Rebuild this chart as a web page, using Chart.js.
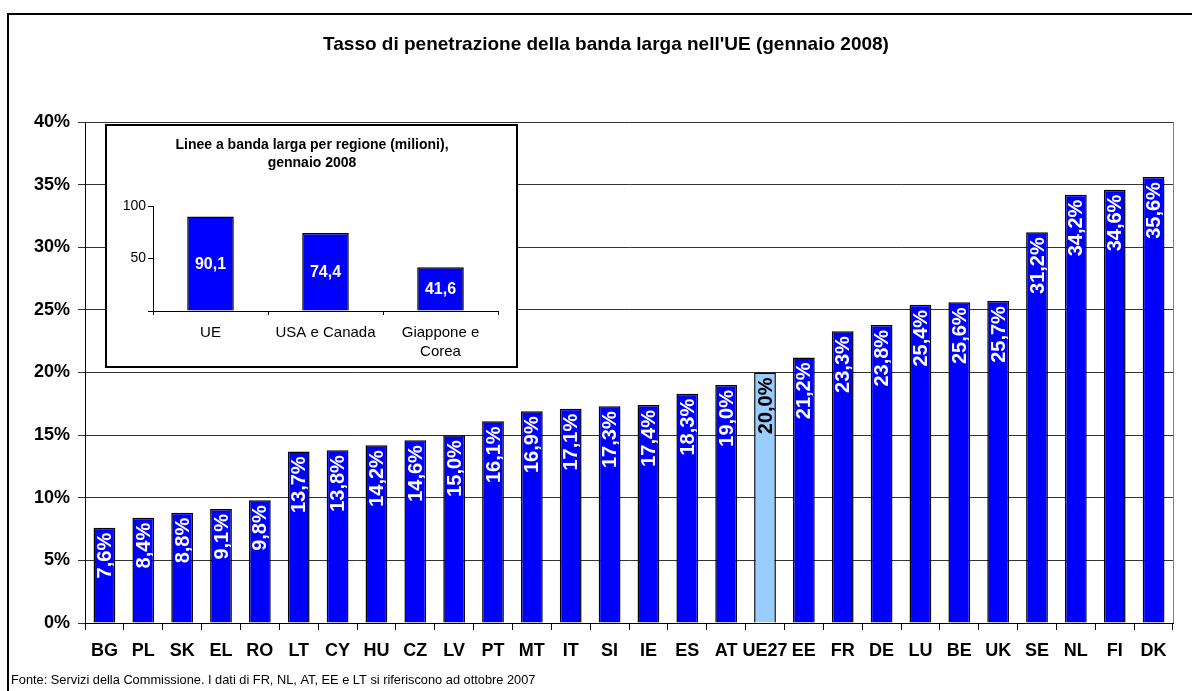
<!DOCTYPE html>
<html>
<head>
<meta charset="utf-8">
<script src="https://cdn.jsdelivr.net/npm/chart.js@4/dist/chart.umd.min.js"></script>
<style>
  html, body { margin: 0; padding: 0; background: #fff; }
  #page { position: relative; width: 1192px; height: 691px; overflow: hidden; }
  #frame { position: absolute; left: 7px; top: 13px; width: 1200px; height: 700px;
           border-left: 2px solid #000; border-top: 2px solid #000; }
  #main { position: absolute; left: 0; top: 0; }
  #inset { position: absolute; left: 105px; top: 124px; width: 413px; height: 244px;
           box-sizing: border-box; border: 2px solid #000; background: #fff; }
  #insetCanvas { position: absolute; left: 0; top: 0; }
</style>
</head>
<body>
<div id="page">
  <div id="frame"></div>
  <canvas id="main" width="1192" height="691"></canvas>
  <div id="inset"><canvas id="insetCanvas" width="409" height="240"></canvas></div>
</div>
<script>
  // main chart: broadband penetration by country, Jan 2008
  var categories = ["BG", "PL", "SK", "EL", "RO", "LT", "CY", "HU", "CZ", "LV", "PT", "MT", "IT", "SI",
                    "IE", "ES", "AT", "UE27", "EE", "FR", "DE", "LU", "BE", "UK", "SE", "NL", "FI", "DK"];
  var penetration = [7.6, 8.4, 8.8, 9.1, 9.8, 13.7, 13.8, 14.2, 14.6, 15.0, 16.1, 16.9, 17.1, 17.3,
                     17.4, 18.3, 19.0, 20.0, 21.2, 23.3, 23.8, 25.4, 25.6, 25.7, 31.2, 34.2, 34.6, 35.6];
  var highlight = "UE27";
  var titleText = "Tasso di penetrazione della banda larga nell'UE (gennaio 2008)";
  var sourceText = "Fonte: Servizi della Commissione. I dati di FR, NL, AT, EE e LT si riferiscono ad ottobre 2007";

  // inset: broadband lines per region (millions)
  var regions = ["UE", "USA e Canada", ["Giappone e", "Corea"]];
  var lines = [90.1, 74.4, 41.6];
  var insetTitle = ["Linee a banda larga per regione (milioni),", "gennaio 2008"];

  var FONT = "Arial, 'Liberation Sans', sans-serif";
  var BLUE = "#0000FF", LIGHT = "#99CCFF";

  function pct(v) { return v.toFixed(1).replace(".", ",") + "%"; }
  function num(v) { return v.toFixed(1).replace(".", ","); }

  /* title, footer, plot border and rotated value labels */
  var mainDecor = {
    id: "mainDecor",
    afterDatasetsDraw: function (chart) {
      var ctx = chart.ctx, a = chart.chartArea;
      ctx.save();
      ctx.strokeStyle = "#808080"; ctx.lineWidth = 1;
      ctx.beginPath(); ctx.moveTo(a.right + 0.5, a.top); ctx.lineTo(a.right + 0.5, a.bottom); ctx.stroke();

      ctx.font = "bold 20px " + FONT;
      ctx.textAlign = "right"; ctx.textBaseline = "middle";
      chart.getDatasetMeta(0).data.forEach(function (bar, i) {
        ctx.save();
        ctx.translate(bar.x, bar.y + 5);
        ctx.rotate(-Math.PI / 2);
        ctx.fillStyle = categories[i] === highlight ? "#000" : "#fff";
        ctx.fillText(pct(penetration[i]), 0, 1);
        ctx.restore();
      });

      ctx.fillStyle = "#000";
      ctx.textAlign = "center";
      ctx.font = "bold 19px " + FONT;
      ctx.fillText(titleText, 606, 45);
      ctx.textAlign = "left";
      ctx.font = "12.8px " + FONT;
      ctx.fillText(sourceText, 11, 680);
      ctx.restore();
    }
  };

  new Chart(document.getElementById("main"), {
    type: "bar",
    data: {
      labels: categories,
      datasets: [{
        data: penetration,
        backgroundColor: categories.map(function (c) { return c === highlight ? LIGHT : BLUE; }),
        borderColor: "#000", borderWidth: 1.5,
        categoryPercentage: 1, barPercentage: 0.56
      }]
    },
    options: {
      responsive: false, animation: false, devicePixelRatio: 1,
      layout: { padding: { left: 0, right: 19, top: 122, bottom: 0 } },
      plugins: { legend: { display: false }, tooltip: { enabled: false } },
      scales: {
        x: {
          afterFit: function (s) { s.height = 68; },
          grid: { drawOnChartArea: false, color: "#000", tickLength: 7 },
          border: { color: "#000", width: 1 },
          ticks: { color: "#000", font: { family: FONT, size: 18, weight: "bold" }, padding: 10,
                   maxRotation: 0, autoSkip: false }
        },
        y: {
          min: 0, max: 40,
          afterFit: function (s) { s.width = 85; },
          grid: { color: "#333", tickLength: 7 },
          border: { color: "#000", width: 1 },
          ticks: { stepSize: 5, color: "#000", padding: 8,
                   font: { family: FONT, size: 18, weight: "bold" },
                   callback: function (v) { return v + "%"; } }
        }
      }
    },
    plugins: [mainDecor]
  });

  var insetDecor = {
    id: "insetDecor",
    afterDatasetsDraw: function (chart) {
      var ctx = chart.ctx;
      ctx.save();
      ctx.fillStyle = "#fff";
      ctx.font = "bold 16px " + FONT;
      ctx.textAlign = "center"; ctx.textBaseline = "middle";
      chart.getDatasetMeta(0).data.forEach(function (bar, i) {
        ctx.fillText(num(lines[i]), bar.x, (bar.y + bar.base) / 2 + 1);
      });
      ctx.fillStyle = "#000";
      ctx.font = "bold 14px " + FONT;
      ctx.fillText(insetTitle[0], 205, 19);
      ctx.fillText(insetTitle[1], 205, 37);
      ctx.restore();
    }
  };

  new Chart(document.getElementById("insetCanvas"), {
    type: "bar",
    data: {
      labels: regions,
      datasets: [{
        data: lines, backgroundColor: BLUE, borderColor: "#000", borderWidth: 1.5,
        categoryPercentage: 1, barPercentage: 0.405
      }]
    },
    options: {
      responsive: false, animation: false, devicePixelRatio: 1,
      layout: { padding: { left: 0, right: 18, top: 80, bottom: 0 } },
      plugins: { legend: { display: false }, tooltip: { enabled: false } },
      scales: {
        x: {
          afterFit: function (s) { s.height = 55; },
          grid: { drawOnChartArea: false, color: "#000", tickLength: 4 },
          border: { color: "#000", width: 1 },
          ticks: { color: "#000", padding: 8, maxRotation: 0, autoSkip: false,
                   font: { family: FONT, size: 15, lineHeight: 1.27 } }
        },
        y: {
          min: 0, max: 100,
          afterFit: function (s) { s.width = 46; },
          grid: { drawOnChartArea: false, color: "#000", tickLength: 5 },
          border: { color: "#000", width: 1 },
          ticks: { stepSize: 50, color: "#000", padding: 2, font: { family: FONT, size: 14 },
                   callback: function (v) { return v === 0 ? "" : v; } }
        }
      }
    },
    plugins: [insetDecor]
  });
</script>
</body>
</html>
